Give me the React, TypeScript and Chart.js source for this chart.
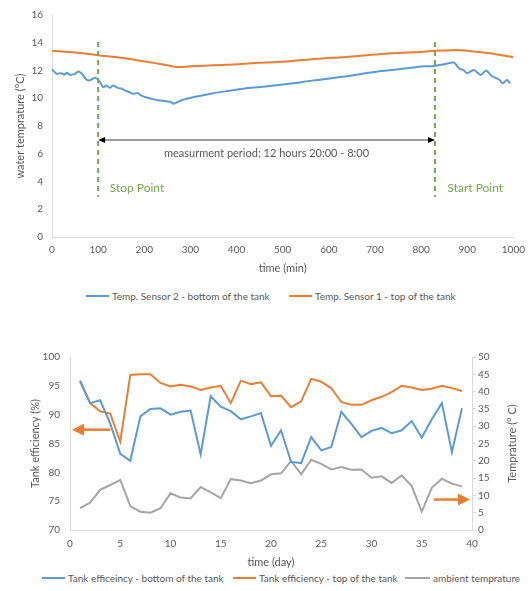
import React, { useEffect, useRef } from "react";
import { Chart, registerables } from "chart.js";

Chart.register(...registerables);

const FONT = "Lato, 'Open Sans', sans-serif";
const TEXT = "#595959";
const AXIS = "#d9d9d9";
const BLUE = "#5B9BD5";
const ORANGE = "#ED7D31";
const GRAY = "#A5A5A5";
const GREEN = "#70AD47";

// ---------- Top chart data (time in min, temperature in °C) ----------
const bottomSensorTime = [0, 5, 11, 17, 22, 27, 32, 39, 45, 50,
  57, 65, 75, 82, 88, 93, 100, 106, 111, 118,
  125, 132, 143, 150, 158, 167, 176, 186, 193, 201,
  215, 230, 248, 256, 264, 280, 308, 344, 380, 416,
  452, 491, 527, 563, 598, 634, 670, 706, 742, 778,
  805, 828, 850, 871, 882, 893, 900, 914, 929, 941,
  953, 968, 977, 986, 993];
const bottomSensorTemp = [12.1, 11.9, 11.75, 11.8, 11.78, 11.7, 11.83, 11.68, 11.72, 11.76,
  11.93, 11.76, 11.33, 11.29, 11.4, 11.48, 11.34, 11.05, 10.8, 10.92,
  10.75, 10.92, 10.75, 10.7, 10.57, 10.45, 10.33, 10.37, 10.2, 10.09,
  9.97, 9.85, 9.78, 9.75, 9.61, 9.85, 10.09, 10.33, 10.52, 10.69,
  10.81, 10.95, 11.1, 11.27, 11.4, 11.56, 11.75, 11.92, 12.05, 12.2,
  12.3, 12.33, 12.45, 12.57, 12.16, 12.0, 11.8, 12.04, 11.68, 12.0,
  11.6, 11.37, 11.08, 11.32, 11.08];
const topSensorTime = [0, 50, 100, 150, 181, 220, 255, 270, 300, 330,
  370, 404, 448, 478, 520, 560, 591, 630, 663, 700,
  734, 770, 806, 830, 855, 878, 895, 914, 935, 950,
  975, 1000];
const topSensorTemp = [13.43, 13.3, 13.1, 12.92, 12.76, 12.55, 12.35, 12.25, 12.3, 12.35,
  12.4, 12.45, 12.55, 12.6, 12.68, 12.8, 12.88, 12.95, 13.05, 13.15,
  13.24, 13.3, 13.36, 13.43, 13.45, 13.48, 13.45, 13.36, 13.3, 13.24,
  13.1, 12.95];

const stopTime = 100;
const startTime = 830;
const markerTop = 14.05;
const markerBottom = 2.9;
const periodArrowY = 7;
const periodLabel = "measurment period; 12 hours 20:00 - 8:00";
const periodLabelY = 6;
const stopLabel = "Stop Point";
const startLabel = "Start Point";
const pointLabelY = 3.5;
const stopLabelX = 125;
const startLabelX = 857;

// ---------- Bottom chart data ----------
const days = [1, 2, 3, 4, 5, 6, 7, 8, 9, 10,
  11, 12, 13, 14, 15, 16, 17, 18, 19, 20,
  21, 22, 23, 24, 25, 26, 27, 28, 29, 30,
  31, 32, 33, 34, 35, 36, 37, 38, 39];
const effBottom = [95.9, 92.0, 92.5, 88.5, 83.2, 82.0, 89.7, 91.0, 91.1, 90.0,
  90.5, 90.7, 83.1, 93.2, 91.4, 90.6, 89.2, 89.7, 90.3, 84.6,
  87.3, 81.8, 81.6, 86.1, 83.8, 84.4, 90.5, 88.4, 86.1, 87.2,
  87.7, 86.8, 87.3, 88.9, 86.0, 89.2, 92.0, 83.5, 91.1];
const effTop = [95.8, 92.0, 90.6, 90.2, 85.3, 96.9, 97.0, 97.0, 95.5, 94.9,
  95.2, 94.9, 94.3, 94.7, 95.0, 92.0, 95.9, 95.3, 95.6, 93.2,
  93.3, 91.3, 92.3, 96.2, 95.7, 94.6, 92.2, 91.7, 91.7, 92.5,
  93.1, 93.9, 95.0, 94.7, 94.3, 94.5, 95.0, 94.6, 94.1];
const ambientTemp = [6.3, 7.9, 11.6, 13.0, 14.5, 6.9, 5.3, 5.0, 6.3, 10.6,
  9.4, 9.1, 12.4, 10.9, 9.2, 14.7, 14.3, 13.5, 14.3, 16.1,
  16.4, 20.0, 16.1, 20.3, 19.1, 17.5, 18.2, 17.4, 17.5, 15.1,
  15.5, 13.6, 15.8, 12.7, 5.3, 12.2, 14.8, 13.4, 12.6];

const leftArrow = { fromDay: 4, toDay: 0.2, eff: 87.4 };
const rightArrow = { fromDay: 36.2, toDay: 39.8, temp: 8.8 };
const rightTitle = "Temprature (° C)";

const tickFont = { family: FONT, size: 10 };
const titleFont = { family: FONT, size: 11 };
const plainTick = (v: any) => String(v);

function arrowHead(ctx: CanvasRenderingContext2D, tipX: number, y: number, dir: number, len: number, half: number) {
  ctx.beginPath();
  ctx.moveTo(tipX, y);
  ctx.lineTo(tipX - dir * len, y - half);
  ctx.lineTo(tipX - dir * len, y + half);
  ctx.closePath();
  ctx.fill();
}

const topAnnotations = {
  id: "topAnnotations",
  afterDatasetsDraw(chart: any) {
    const { ctx } = chart;
    const x = chart.scales.x;
    const y = chart.scales.y;
    ctx.save();
    const ay = y.getPixelForValue(periodArrowY);
    const x1 = x.getPixelForValue(stopTime);
    const x2 = x.getPixelForValue(startTime);
    ctx.strokeStyle = "#7f7f7f";
    ctx.lineWidth = 1.5;
    ctx.beginPath();
    ctx.moveTo(x1 + 5, ay);
    ctx.lineTo(x2 - 5, ay);
    ctx.stroke();
    ctx.fillStyle = "#000";
    arrowHead(ctx, x1, ay, -1, 7, 3);
    arrowHead(ctx, x2, ay, 1, 7, 3);

    ctx.strokeStyle = GREEN;
    ctx.lineWidth = 2;
    ctx.setLineDash([5, 4]);
    for (const t of [stopTime, startTime]) {
      const px = x.getPixelForValue(t);
      ctx.beginPath();
      ctx.moveTo(px, y.getPixelForValue(markerTop));
      ctx.lineTo(px, y.getPixelForValue(markerBottom));
      ctx.stroke();
    }
    ctx.setLineDash([]);

    ctx.font = `11px ${FONT}`;
    ctx.fillStyle = TEXT;
    ctx.textAlign = "center";
    ctx.textBaseline = "middle";
    ctx.fillText(periodLabel, (x1 + x2) / 2, y.getPixelForValue(periodLabelY));

    ctx.font = `12px ${FONT}`;
    ctx.fillStyle = GREEN;
    ctx.textAlign = "left";
    ctx.fillText(stopLabel, x.getPixelForValue(stopLabelX), y.getPixelForValue(pointLabelY));
    ctx.fillText(startLabel, x.getPixelForValue(startLabelX), y.getPixelForValue(pointLabelY));
    ctx.restore();
  },
};

const bottomAnnotations = {
  id: "bottomAnnotations",
  afterDatasetsDraw(chart: any) {
    const { ctx, chartArea } = chart;
    const x = chart.scales.x;
    const y = chart.scales.y;
    const y2 = chart.scales.y2;
    ctx.save();
    ctx.strokeStyle = ORANGE;
    ctx.fillStyle = ORANGE;
    ctx.lineWidth = 2.5;
    let ly = y.getPixelForValue(leftArrow.eff);
    let tail = x.getPixelForValue(leftArrow.fromDay);
    let tip = x.getPixelForValue(leftArrow.toDay);
    ctx.beginPath();
    ctx.moveTo(tail, ly);
    ctx.lineTo(tip + 10, ly);
    ctx.stroke();
    arrowHead(ctx, tip, ly, -1, 12, 6);
    ly = y2.getPixelForValue(rightArrow.temp);
    tail = x.getPixelForValue(rightArrow.fromDay);
    tip = x.getPixelForValue(rightArrow.toDay);
    ctx.beginPath();
    ctx.moveTo(tail, ly);
    ctx.lineTo(tip - 10, ly);
    ctx.stroke();
    arrowHead(ctx, tip, ly, 1, 12, 6);

    ctx.translate(512, (chartArea.top + chartArea.bottom) / 2);
    ctx.rotate(-Math.PI / 2);
    ctx.font = `11px ${FONT}`;
    ctx.fillStyle = TEXT;
    ctx.textAlign = "center";
    ctx.textBaseline = "middle";
    ctx.fillText(rightTitle, 0, 0);
    ctx.restore();
  },
};

function TopChart() {
  const ref = useRef<HTMLCanvasElement>(null);
  useEffect(() => {
    const chart = new Chart(ref.current!, {
      type: "line",
      data: {
        datasets: [
          {
            label: "Temp. Sensor 2 - bottom of the tank",
            data: bottomSensorTime.map((t, i) => ({ x: t, y: bottomSensorTemp[i] })),
            borderColor: BLUE,
            borderWidth: 2,
            pointRadius: 0,
            tension: 0.3,
          },
          {
            label: "Temp. Sensor 1 - top of the tank",
            data: topSensorTime.map((t, i) => ({ x: t, y: topSensorTemp[i] })),
            borderColor: ORANGE,
            borderWidth: 2,
            pointRadius: 0,
            tension: 0.3,
          },
        ],
      },
      options: {
        responsive: false,
        animation: false,
        layout: { padding: { top: 15, right: 15, left: 0, bottom: 0 } },
        plugins: { legend: { display: false }, tooltip: { enabled: false } },
        scales: {
          x: {
            type: "linear",
            min: 0,
            max: 1000,
            ticks: { stepSize: 100, font: tickFont, color: TEXT, padding: 7, maxRotation: 0, autoSkip: false, callback: plainTick },
            grid: { display: false, drawTicks: false },
            border: { display: true, color: AXIS, width: 1 },
            title: { display: true, text: "time (min)", font: titleFont, color: TEXT, padding: 0 },
            afterFit: (s: any) => { s.height = 38; },
          },
          y: {
            min: 0,
            max: 16,
            ticks: { stepSize: 2, font: tickFont, color: TEXT, padding: 9, callback: plainTick },
            grid: { display: false, drawTicks: false },
            border: { display: true, color: AXIS, width: 1 },
            title: { display: true, text: "water temprature (°C)", font: titleFont, color: TEXT, padding: { top: 14, bottom: 0 } },
            afterFit: (s: any) => { s.width = 52; },
          },
        },
      },
      plugins: [topAnnotations],
    } as any);
    return () => chart.destroy();
  }, []);
  return <canvas ref={ref} width={532} height={275} style={{ position: "absolute", left: 0, top: 0 }} />;
}

function BottomChart() {
  const ref = useRef<HTMLCanvasElement>(null);
  useEffect(() => {
    const chart = new Chart(ref.current!, {
      type: "line",
      data: {
        datasets: [
          {
            label: "Tank efficeincy - bottom of the tank",
            data: days.map((d, i) => ({ x: d, y: effBottom[i] })),
            borderColor: BLUE,
            borderWidth: 2,
            pointRadius: 0,
            yAxisID: "y",
          },
          {
            label: "Tank efficiency - top of the tank",
            data: days.map((d, i) => ({ x: d, y: effTop[i] })),
            borderColor: ORANGE,
            borderWidth: 2,
            pointRadius: 0,
            yAxisID: "y",
          },
          {
            label: "ambient temprature",
            data: days.map((d, i) => ({ x: d, y: ambientTemp[i] })),
            borderColor: GRAY,
            borderWidth: 2,
            pointRadius: 0,
            yAxisID: "y2",
          },
        ],
      },
      options: {
        responsive: false,
        animation: false,
        layout: { padding: { top: 22, right: 0, left: 0, bottom: 0 } },
        plugins: { legend: { display: false }, tooltip: { enabled: false } },
        scales: {
          x: {
            type: "linear",
            min: 0,
            max: 40,
            ticks: { stepSize: 5, font: tickFont, color: TEXT, padding: 8, maxRotation: 0, autoSkip: false, callback: plainTick },
            grid: { display: false, drawTicks: false },
            border: { display: true, color: AXIS, width: 1 },
            title: { display: true, text: "time (day)", font: titleFont, color: TEXT, padding: 0 },
            afterFit: (s: any) => { s.height = 39; },
          },
          y: {
            position: "left",
            min: 70,
            max: 100,
            ticks: { stepSize: 5, font: tickFont, color: TEXT, padding: 10, callback: plainTick },
            grid: { display: false, drawTicks: false },
            border: { display: true, color: AXIS, width: 1 },
            title: { display: true, text: "Tank efficiency (%)", font: titleFont, color: TEXT, padding: { top: 29, bottom: 0 } },
            afterFit: (s: any) => { s.width = 70; },
          },
          y2: {
            position: "right",
            min: 0,
            max: 50,
            ticks: { stepSize: 5, font: tickFont, color: TEXT, padding: 2, callback: plainTick },
            grid: { display: true, drawOnChartArea: false, drawTicks: true, tickLength: 4, color: AXIS },
            border: { display: true, color: AXIS, width: 1 },
            title: { display: false },
            afterFit: (s: any) => { s.width = 60; },
          },
        },
      },
      plugins: [bottomAnnotations],
    } as any);
    return () => chart.destroy();
  }, []);
  return <canvas ref={ref} width={532} height={234} style={{ position: "absolute", left: 0, top: 335 }} />;
}

function LegendItem({ x, y, w, color, label }: { x: number; y: number; w: number; color: string; label: string }) {
  return (
    <>
      <div style={{ position: "absolute", left: x, top: y - 1, width: w, height: 2, background: color }} />
      <div
        style={{
          position: "absolute",
          left: x + w + 3,
          top: y - 7,
          height: 14,
          lineHeight: "14px",
          fontFamily: FONT,
          fontSize: 10,
          color: TEXT,
          whiteSpace: "nowrap",
        }}
      >
        {label}
      </div>
    </>
  );
}

export default function App() {
  return (
    <div style={{ position: "absolute", left: 0, top: 0, width: 532, height: 591, background: "#fff" }}>
      <TopChart />
      <LegendItem x={86} y={296} w={23} color={BLUE} label="Temp. Sensor 2 - bottom of the tank" />
      <LegendItem x={289} y={296} w={23} color={ORANGE} label="Temp. Sensor 1 - top of the tank" />
      <BottomChart />
      <LegendItem x={42} y={578} w={23} color={BLUE} label="Tank efficeincy - bottom of the tank" />
      <LegendItem x={233} y={578} w={23} color={ORANGE} label="Tank efficiency - top of the tank" />
      <LegendItem x={405} y={578} w={25} color={GRAY} label="ambient temprature" />
    </div>
  );
}
